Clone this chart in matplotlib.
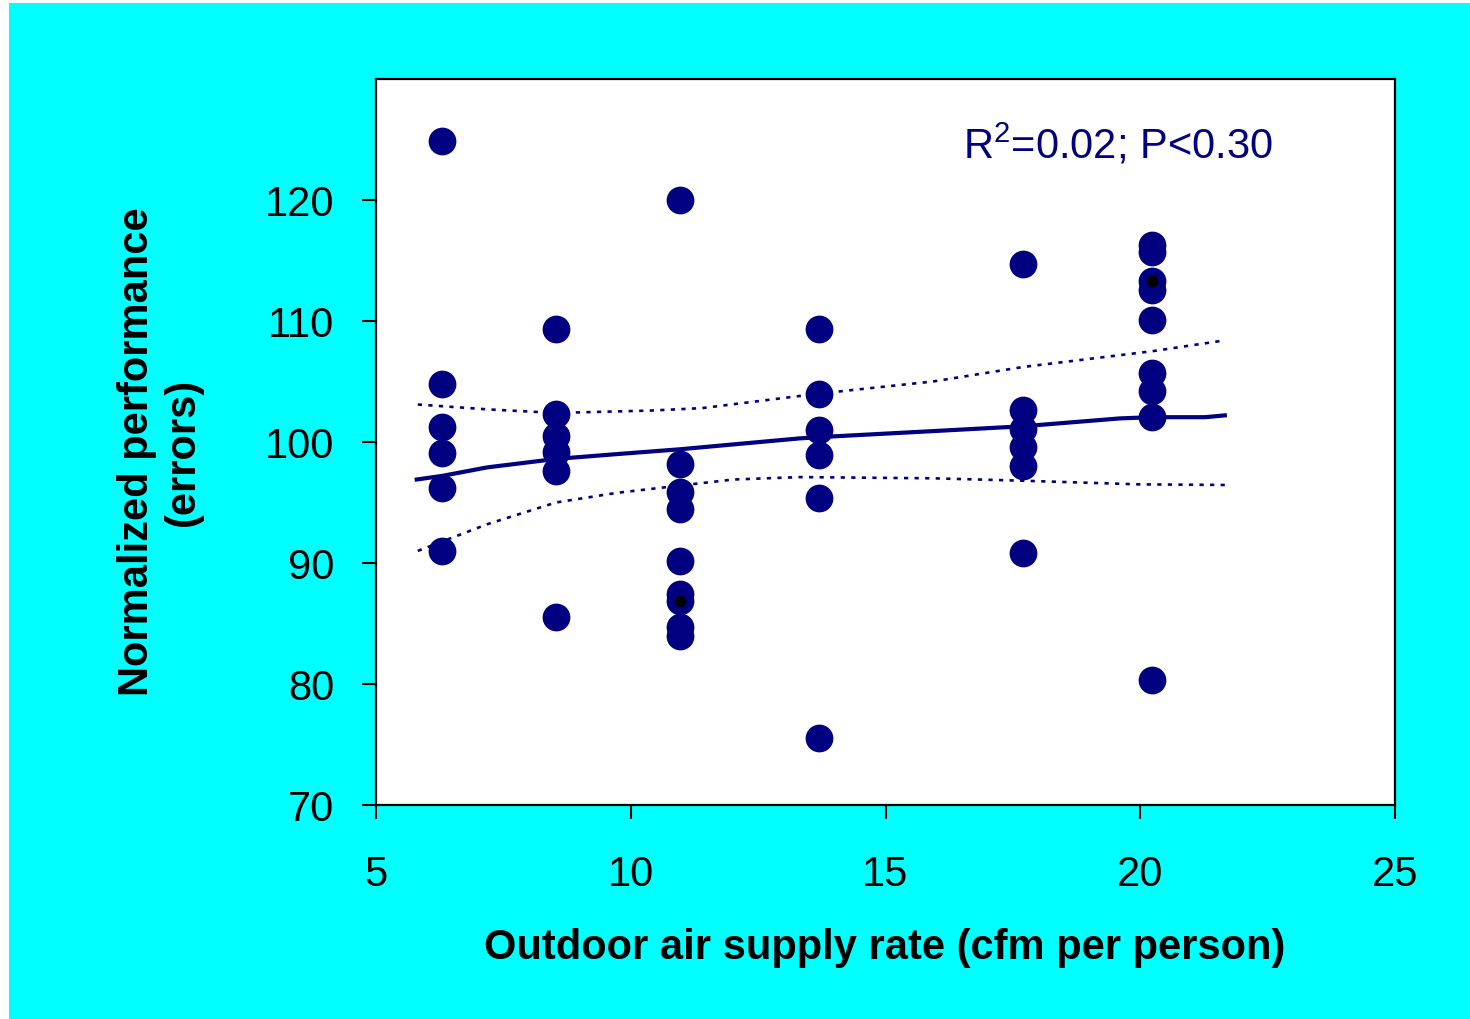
import matplotlib
matplotlib.use('Agg')
import matplotlib.pyplot as plt
from matplotlib.patches import Rectangle

plt.rcParams['font.family'] = ['Liberation Sans', 'DejaVu Sans']
plt.rcParams['mathtext.default'] = 'regular'

NAVY = '#000080'
CYAN = '#00FFFF'

# measured points, grouped by ventilation rate
x_groups = [6.30, 8.53, 10.97, 13.69, 17.70, 20.23]
y_groups = [
    [124.9, 104.8, 101.2, 99.1, 96.2, 91.0],
    [109.3, 102.3, 100.5, 99.2, 97.6, 85.5],
    [120.0, 98.2, 95.9, 94.5, 90.2, 87.4, 86.9, 84.7, 84.0],
    [109.3, 104.0, 101.0, 98.9, 95.4, 75.5],
    [114.7, 102.65, 101.1, 99.6, 98.0, 90.8],
    [116.3, 115.7, 113.3, 112.6, 110.1, 105.7, 104.2, 102.1, 80.3],
]
# small black markers over two of the points
x_black = [10.97, 20.23]
y_black = [86.9, 113.3]

# fitted line and confidence band
fit_x = [5.80, 6.30, 7.18, 8.53, 9.73, 10.97, 12.01, 13.32, 13.69, 15.93,
         17.70, 19.60, 20.23, 21.27, 21.66]
fit_y = [96.9, 97.2, 97.9, 98.6, 99.0, 99.4, 99.8, 100.3, 100.4, 100.9,
         101.3, 101.95, 102.05, 102.05, 102.2]
up_x = [5.82, 7.18, 8.53, 10.4, 11.4, 13.69, 15.93, 17.70, 20.23, 21.66]
up_y = [103.1, 102.7, 102.4, 102.6, 102.8, 104.0, 105.0, 106.2, 107.5, 108.4]
lo_x = [5.82, 7.18, 8.53, 9.73, 10.97, 12.01, 13.32, 15.93, 17.70, 19.97, 21.66]
lo_y = [91.0, 93.2, 95.0, 95.8, 96.4, 96.9, 97.1, 97.0, 96.8, 96.5, 96.45]

fig = plt.figure(figsize=(14.7, 10.2), dpi=100)
fig.patch.set_facecolor('white')
fig.patches.append(Rectangle((9 / 1470, 0), 1, 1 - 4 / 1020, transform=fig.transFigure,
                             facecolor=CYAN, edgecolor='none', zorder=-10))

ax = fig.add_axes([376 / 1470, 214 / 1020, 1019 / 1470, 726 / 1020])
ax.set_facecolor('white')

ax.plot(fit_x, fit_y, color=NAVY, lw=3.0, zorder=2)
ax.plot(up_x, up_y, color=NAVY, lw=1.9, dashes=(1.6, 2.4), zorder=2)
ax.plot(lo_x, lo_y, color=NAVY, lw=1.9, dashes=(1.6, 2.4), zorder=2)

for xv, ys in zip(x_groups, y_groups):
    ax.plot([xv] * len(ys), ys, 'o', color=NAVY, markersize=20,
            markeredgewidth=0, zorder=3)
ax.plot(x_black, y_black, 'o', color='black', markersize=8.5,
        markeredgewidth=0, zorder=4)

ax.set_xlim(5, 25)
ax.set_ylim(70, 130)
ax.set_xticks([5, 10, 15, 20, 25])
ax.set_yticks([70, 80, 90, 100, 110, 120])
for s in ax.spines.values():
    s.set_linewidth(1.6)
    s.set_color('black')
ax.tick_params(axis='both', direction='out', length=10, width=1.5,
               labelsize=30, colors='black')
ax.tick_params(axis='x', pad=25)
ax.tick_params(axis='y', pad=20)

fig.text(963 / 1470, 1 - 159 / 1020, 'R$^{2}$=0.02; P<0.30', color=NAVY,
         fontsize=30, ha='left', va='baseline')
fig.text(885 / 1470, 1 - 948 / 1020, 'Outdoor air supply rate (cfm per person)',
         fontsize=30, fontweight='bold', ha='center', va='center')
fig.text(160 / 1470, 1 - 452 / 1020, 'Normalized performance\n(errors)',
         fontsize=30, fontweight='bold', ha='center', va='center',
         rotation=90, multialignment='center', linespacing=1.2)

fig.savefig('out.png', dpi=100)
